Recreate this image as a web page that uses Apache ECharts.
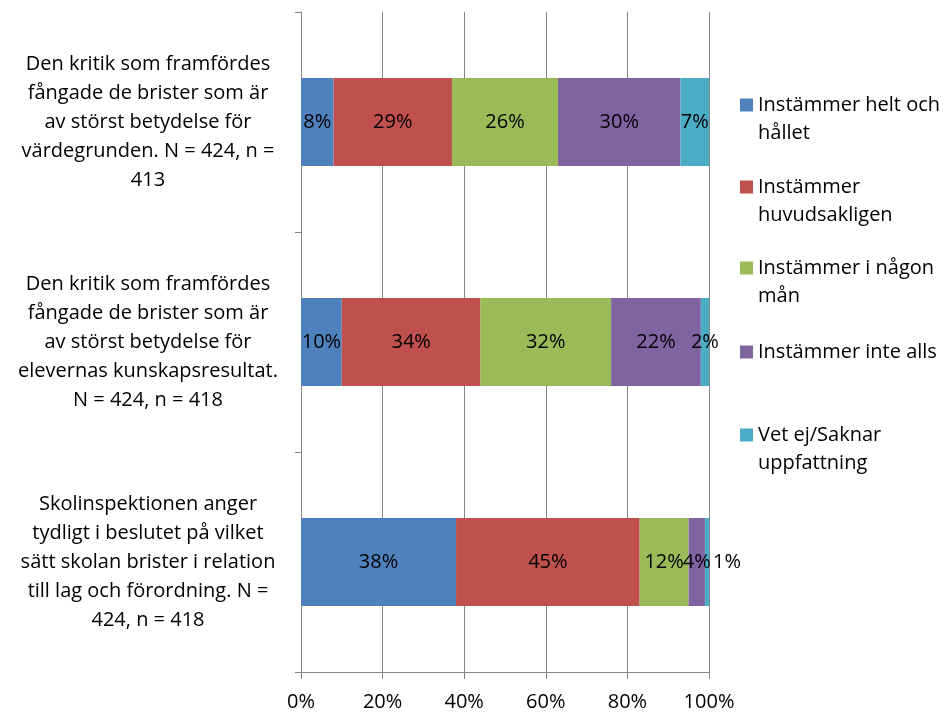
<!DOCTYPE html>
<html>
<head>
<meta charset="utf-8">
<script src="https://cdn.jsdelivr.net/npm/echarts@6/dist/echarts.min.js"></script>
<style>
html, body { margin: 0; padding: 0; background: #fff; }
#chart { width: 952px; height: 713px; }
</style>
</head>
<body>
<div id="chart"></div>
<script>
// frågor (y-axel), uppifrån och ned
var categories = [
  'Den kritik som framfördes\nfångade de brister som är\nav störst betydelse för\nvärdegrunden. N = 424, n =\n413',
  'Den kritik som framfördes\nfångade de brister som är\nav störst betydelse för\nelevernas kunskapsresultat.\nN = 424, n = 418',
  'Skolinspektionen anger\ntydligt i beslutet på vilket\nsätt skolan brister i relation\ntill lag och förordning. N =\n424, n = 418'
];
var seriesNames = [
  'Instämmer helt och\nhållet',
  'Instämmer\nhuvudsakligen',
  'Instämmer i någon\nmån',
  'Instämmer inte alls',
  'Vet ej/Saknar\nuppfattning'
];
var helt = [8, 10, 38];
var huvudsakligen = [29, 34, 45];
var nagonMan = [26, 32, 12];
var inteAlls = [30, 22, 4];
var vetEj = [7, 2, 1];
var xTicks = [0, 20, 40, 60, 80, 100];

var colors = ['#4F81BD', '#C0504D', '#9BBB59', '#8064A2', '#4BACC6'];
var values = [helt, huvudsakligen, nagonMan, inteAlls, vetEj];
var legendTops = [63, 145, 226, 338, 393];
var font = '"Open Sans", Lato, sans-serif';
var fs = 20;

var myChart = echarts.init(document.getElementById('chart'));

var series = seriesNames.map(function (name, i) {
  return {
    name: name,
    type: 'bar',
    stack: 'total',
    barWidth: '40%',
    itemStyle: { color: colors[i] },
    label: {
      show: true,
      formatter: '{c}%',
      color: '#000',
      fontFamily: font,
      fontSize: fs
    },
    data: values[i].map(function (v) {
      // den smala sista biten får etiketten utanför stapeln
      if (i === 4 && v < 2) {
        return { value: v, label: { position: 'right', distance: 4 } };
      }
      return v;
    })
  };
});

var legends = seriesNames.map(function (name, i) {
  var twoLines = name.indexOf('\n') >= 0;
  return {
    data: [name],
    orient: 'vertical',
    left: 740,
    top: legendTops[i],
    padding: 0,
    itemWidth: 13,
    itemHeight: 13,
    itemGap: 0,
    icon: 'rect',
    selectedMode: false,
    // tom rad överst så att första raden hamnar i höjd med rutan
    formatter: function (n) { return twoLines ? '\u00a0\n' + n : n; },
    textStyle: {
      color: '#000',
      fontFamily: font,
      fontSize: fs,
      lineHeight: 28
    }
  };
});

myChart.setOption({
  animation: false,
  textStyle: { fontFamily: font },
  grid: { left: 301, right: 243, top: 12, bottom: 41, containLabel: false },
  legend: legends,
  xAxis: {
    type: 'value',
    min: xTicks[0],
    max: xTicks[xTicks.length - 1],
    interval: 20,
    axisLine: { show: true, lineStyle: { color: '#868686' } },
    axisTick: { show: true, length: 7, lineStyle: { color: '#868686' } },
    splitLine: { show: true, lineStyle: { color: '#868686', width: 1 } },
    axisLabel: {
      formatter: '{value}%',
      color: '#000',
      fontSize: fs,
      fontFamily: font,
      margin: 20
    }
  },
  yAxis: {
    type: 'category',
    inverse: true,
    data: categories,
    axisLine: { show: true, lineStyle: { color: '#868686' } },
    axisTick: { show: true, length: 6, lineStyle: { color: '#868686' } },
    axisLabel: {
      align: 'center',
      margin: 153,
      color: '#000',
      fontSize: fs,
      lineHeight: 29,
      fontFamily: font
    }
  },
  series: series
});
</script>
</body>
</html>
